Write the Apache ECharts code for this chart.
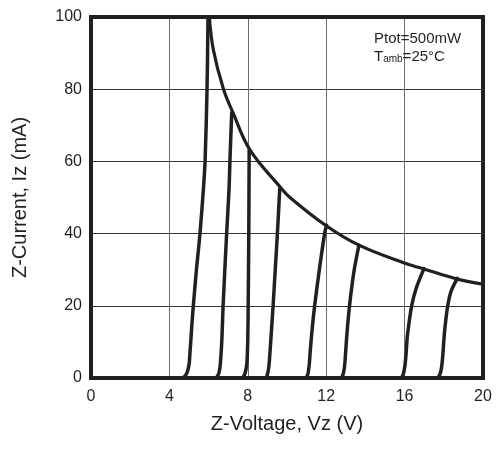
<!DOCTYPE html>
<html>
<head>
<meta charset="utf-8">
<script src="https://cdn.jsdelivr.net/npm/echarts@6/dist/echarts.min.js"></script>
<style>
html,body{margin:0;padding:0;background:#fff;}
#chart{width:498px;height:451px;}
</style>
</head>
<body>
<div id="chart"></div>
<script>
// Axis ticks
const xTicks = [0, 4, 8, 12, 16, 20];
const yTicks = [0, 20, 40, 60, 80, 100];

// Zener characteristic curves [Vz (V), Iz (mA)]
const zener51 = [[4.0,0],[4.6,0],[4.72,0.2],[4.82,0.7],[4.9,1.5],[4.96,2.6],[5.01,4],[5.05,7],[5.1,11],[5.15,15],[5.22,20],[5.38,30],[5.56,40],[5.73,52],[5.82,60],[5.92,80],[5.97,100]];
const zener68 = [[5.85,0],[6.32,0],[6.42,0.3],[6.5,1],[6.56,2.2],[6.6,4],[6.64,7],[6.68,11],[6.74,20],[6.92,40],[7.04,52],[7.1,62],[7.18,73.5]];
const zener82 = [[7.1,0],[7.66,0],[7.76,0.3],[7.84,1],[7.9,2.2],[7.95,4],[7.98,7],[8.0,11],[8.02,20],[8.05,40],[8.07,63.2]];
const zener91 = [[8.45,0],[8.86,0],[8.95,0.3],[9.0,1],[9.05,2.2],[9.09,4],[9.13,7],[9.18,11],[9.29,20],[9.4,30],[9.51,40],[9.63,52.5]];
const zener11 = [[10.6,0],[10.92,0],[11.0,0.3],[11.06,1],[11.1,2.2],[11.14,4],[11.18,7],[11.24,11],[11.31,15],[11.41,20],[11.65,30],[11.92,40],[12.02,42.3]];
const zener13 = [[12.37,0],[12.72,0],[12.8,0.3],[12.86,1],[12.91,2.2],[12.95,4],[12.99,7],[13.04,11],[13.1,15],[13.19,20],[13.3,25],[13.43,30],[13.67,36.8]];
const zener16 = [[15.09,0],[15.76,0],[15.86,0.3],[15.93,1],[15.98,2.2],[16.03,4],[16.08,7],[16.13,11],[16.22,15],[16.36,20],[16.6,25],[16.99,30.3]];
const zener18 = [[16.96,0],[17.6,0],[17.72,0.3],[17.8,1],[17.86,2.2],[17.91,4],[17.96,7],[18.01,11],[18.08,15],[18.2,20],[18.37,24],[18.69,27.6]];

// Max power dissipation curve (Ptot = 500 mW)
const powerCurve = [[6.04,100],[6.24,91],[6.75,80.2],[7.26,73.3],[8.11,63.2],[9.64,53],[10.15,50],[12.02,42.1],[13.67,36.8],[16.02,31.8],[16.99,30.2],[18.69,27.4],[19.98,26.0]];

const zenerCurves = [zener51, zener68, zener82, zener91, zener11, zener13, zener16, zener18];

const ink = '#231f20';
const font = 'Liberation Sans, Arial, Helvetica, sans-serif';

const series = zenerCurves.map(d => ({
  type: 'line', data: d, showSymbol: false, symbol: 'none',
  smooth: 0.3,
  lineStyle: { color: ink, width: 3.5, cap: 'round', join: 'round' },
  clip: false, z: 3, silent: true
}));
series.push({
  type: 'line', data: powerCurve, showSymbol: false, symbol: 'none',
  smooth: 0.4,
  lineStyle: { color: ink, width: 3.2, cap: 'round' },
  clip: false, z: 3, silent: true
});

const chart = echarts.init(document.getElementById('chart'), null, { renderer: 'canvas' });
chart.setOption({
  animation: false,
  backgroundColor: '#ffffff',
  grid: { left: 91, right: 15, top: 17, bottom: 73, show: true, borderColor: ink, borderWidth: 4, z: 4 },
  xAxis: {
    type: 'value', min: xTicks[0], max: xTicks[xTicks.length - 1], interval: 4,
    name: 'Z-Voltage, Vz (V)', nameLocation: 'middle', nameGap: 36,
    nameTextStyle: { fontFamily: font, fontSize: 20, color: ink },
    axisLine: { show: false }, axisTick: { show: false },
    axisLabel: { fontFamily: font, fontSize: 16, color: ink, margin: 11 },
    splitLine: { show: true, lineStyle: { color: '#6d6d6d', width: 1 } }
  },
  yAxis: {
    type: 'value', min: yTicks[0], max: yTicks[yTicks.length - 1], interval: 20,
    name: 'Z-Current, Iz (mA)', nameLocation: 'middle', nameGap: 61,
    nameTextStyle: { fontFamily: font, fontSize: 20, color: ink },
    axisLine: { show: false }, axisTick: { show: false },
    axisLabel: { fontFamily: font, fontSize: 16, color: ink, margin: 9 },
    splitLine: { show: true, lineStyle: { color: '#333333', width: 1 } }
  },
  graphic: [
    { type: 'text', left: 374, top: 31, z: 10,
      style: { text: 'Ptot=500mW', fontFamily: font, fontSize: 15, fill: ink } },
    { type: 'text', left: 374, top: 49, z: 10,
      style: { text: '{a|T}{b|amb}{a|=25°C}', fontFamily: font, fill: ink,
        rich: { a: { fontSize: 15, fontFamily: font, fill: ink, verticalAlign: 'bottom' },
                b: { fontSize: 10, fontFamily: font, fill: ink, verticalAlign: 'bottom' } } } }
  ],
  series: series
});
</script>
</body>
</html>
